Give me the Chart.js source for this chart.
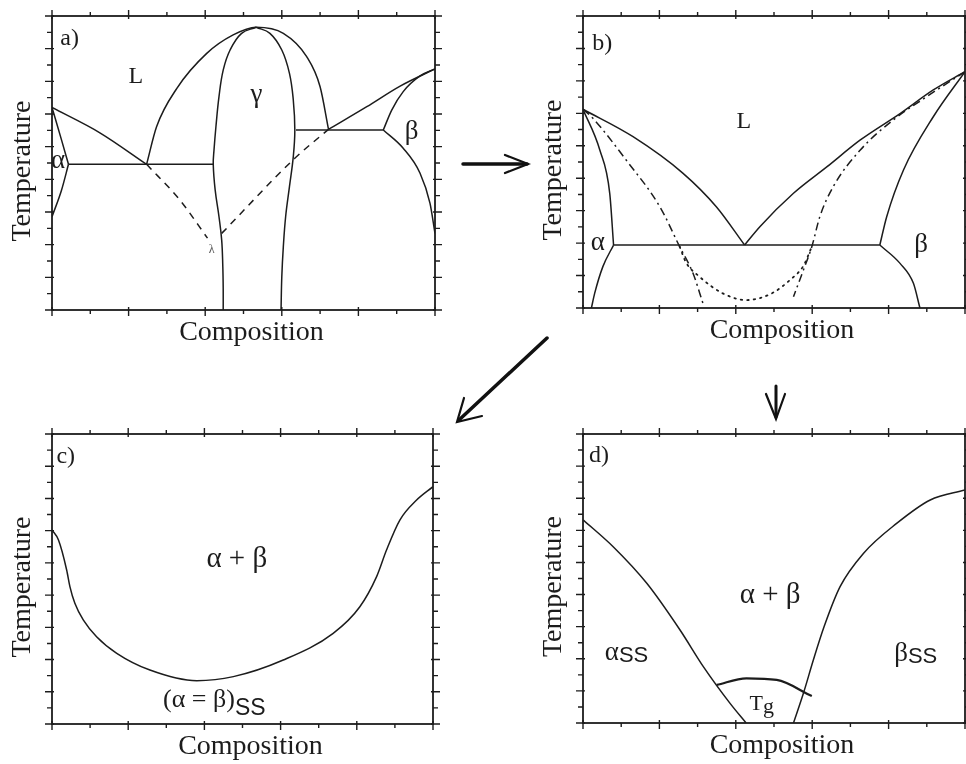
<!DOCTYPE html>
<html lang="en">
<head>
<meta charset="UTF-8">
<title>Phase diagrams a-d</title>
<script src="https://cdn.jsdelivr.net/npm/chart.js"></script>
<style>
    body { margin: 0; background: #fff; }
    #page { position: relative; width: 966px; height: 764px; overflow: hidden; background: #fff; }
    canvas { position: absolute; }
    svg { position: absolute; left: 0; top: 0; }
</style>
</head>
<body>
<div id="page">
    <canvas id="chartA" width="450" height="360" style="left:0;top:0"></canvas>
    <canvas id="chartB" width="436" height="360" style="left:530px;top:0"></canvas>
    <canvas id="chartC" width="450" height="364" style="left:0;top:400px"></canvas>
    <canvas id="chartD" width="436" height="364" style="left:530px;top:400px"></canvas>
    <svg width="966" height="764">
        <g stroke="#111" fill="none" stroke-linecap="round">
            <line x1="463" y1="164" x2="527" y2="164" stroke-width="3.5"/>
            <polyline points="505,155 528,164 505,173" stroke-width="2.2"/>
            <line x1="547" y1="338" x2="459" y2="420" stroke-width="3.5"/>
            <polyline points="464,398 457,422 482,416" stroke-width="2.2"/>
            <line x1="776" y1="386" x2="776" y2="417" stroke-width="3"/>
            <polyline points="766,394 776,419 785,394" stroke-width="2.2"/>
        </g>
    </svg>
</div>
<script>
    const ink = '#1c1c1c';
    const serif = "'Liberation Serif', 'Times New Roman', serif";
    const sans = "'Liberation Sans', Arial, sans-serif";

    // axes (same for every panel)
    const xTitle = 'Composition';
    const yTitle = 'Temperature';
    const xMin = 0, xMax = 100, xStep = 10;
    const yMin = 0, yMax = 18, yStep = 1;

    // a) eutectic + congruent gamma + peritectic
    const aLiquidusL = [[0, 12.4], [12.5, 10.85], [24.7, 8.92]];
    const aAlphaSolidus = [[0, 12.4], [2.5, 10.4], [4.3, 8.92]];
    const aAlphaSolvus = [[4.3, 8.92], [2.5, 7.35], [0, 5.71]];
    const aEutectic = [[4.3, 8.92], [42.1, 8.92]];
    const aGammaLiq = [[24.7, 8.92], [27.3, 11.22], [32.6, 13.57], [40.4, 15.71], [47.3, 16.84], [53.3, 17.31], [60.4, 16.94], [66.5, 15.51], [70.0, 13.67], [72.2, 11.06]];
    const aGammaL = [[53.3, 17.31], [49.5, 16.94], [46.5, 15.92], [44.7, 14.69], [43.6, 13.06], [42.8, 11.22], [42.3, 9.8], [42.1, 8.92], [42.6, 7.35], [43.6, 5.71], [44.3, 4.29], [44.6, 2.65], [44.7, 1.33], [44.7, 0]];
    const aGammaR = [[53.3, 17.31], [56.9, 16.94], [60.0, 15.92], [62.0, 14.49], [63.0, 12.86], [63.4, 11.02], [63.0, 9.39], [62.0, 7.55], [61.0, 5.71], [60.4, 3.88], [60.0, 2.04], [59.8, 0]];
    const aPeritectic = [[63.7, 11.02], [86.5, 11.02]];
    const aBetaLiq = [[72.2, 11.06], [82.2, 12.45], [90.9, 13.71], [100, 14.76]];
    const aBetaSolidus = [[86.5, 11.02], [88.7, 12.24], [91.7, 13.37], [96.1, 14.33], [100, 14.76]];
    const aBetaSolvus = [[86.5, 11.02], [91.7, 9.9], [96.1, 8.37], [98.7, 6.53], [100, 4.69]];
    const aMetaL = [[24.7, 8.92], [33.4, 6.73], [40.6, 4.4]];
    const aMetaR = [[44.3, 4.69], [63.4, 9.29], [72.2, 11.06]];

    // b) simple eutectic with T0 and glass curves
    const bLiqL = [[0, 12.25], [13.1, 10.56], [26.2, 8.3], [34.9, 6.24], [42.3, 3.88]];
    const bLiqR = [[42.3, 3.88], [46.3, 5.01], [55.1, 7.07], [63.9, 8.71], [72.6, 10.36], [83.1, 12.0], [91.7, 13.44], [100, 14.57]];
    const bEutectic = [[8.0, 3.88], [77.7, 3.88]];
    const bAlphaSolidus = [[0, 12.25], [4.4, 9.74], [7.0, 7.07], [8.0, 3.88]];
    const bAlphaSolvus = [[8.0, 3.88], [5.2, 2.55], [3.05, 0.9], [2.2, 0]];
    const bBetaSolidus = [[100, 14.57], [91.7, 11.79], [83.9, 8.51], [79.5, 5.63], [77.7, 3.88]];
    const bBetaSolvus = [[77.7, 3.88], [83.0, 2.75], [86.5, 1.52], [88.2, 0]];
    const bT0L = [[0, 12.25], [2.6, 11.69], [11.3, 9.12], [20.1, 6.25], [25.3, 3.78], [28.8, 2.14], [31.4, 0.29]];
    const bT0R = [[100, 14.57], [90.0, 13.03], [81.2, 11.59], [72.6, 9.74], [65.5, 7.48], [62.0, 5.63], [59.9, 3.78], [57.7, 2.34], [55.1, 0.7]];
    const bGlass = [[25.3, 3.78], [27.0, 2.8], [30.5, 1.93], [36.6, 0.9], [42.8, 0.49], [49.4, 0.9], [54.2, 1.73], [57.7, 2.6], [59.9, 3.78]];

    // c) miscibility gap
    const cBoundary = [[0, 12.04], [1.7, 11.42], [3.85, 9.56], [4.7, 8.53], [6.0, 7.49], [8.2, 6.46], [11.7, 5.42], [17.0, 4.39], [25.7, 3.35], [38.0, 2.69], [47.6, 2.94], [60.7, 3.97], [73.8, 5.63], [80.8, 7.28], [85.2, 9.15], [87.8, 10.8], [91.3, 12.66], [95.7, 13.9], [100, 14.73]];

    // d) solid solutions with Tg
    const dLeft = [[0.1, 12.64], [7.9, 10.98], [16.7, 8.7], [25.4, 5.79], [31.5, 3.51], [38.5, 1.22], [42.7, 0]];
    const dRight = [[55.1, 0], [57.7, 1.85], [60.3, 3.92], [63.1, 5.99], [67.3, 8.49], [73.4, 10.56], [82.1, 12.43], [90.9, 13.89], [100, 14.51]];
    const dTg = [[35.0, 2.37], [42.8, 2.78], [50.7, 2.68], [59.9, 1.68]];

    // region labels
    const notesA = [
        {text: 'a)', x: 4.6, y: 16.23, size: 24},
        {text: 'L', x: 21.9, y: 13.92, size: 24},
        {text: 'γ', x: 53.4, y: 12.76},
        {text: 'β', x: 93.9, y: 10.47},
        {text: 'α', x: 1.6, y: 8.67},
        {text: 'λ', x: 41.7, y: 3.49, size: 12, color: '#555'}
    ];
    const notesB = [
        {text: 'b)', x: 5.05, y: 15.9, size: 24},
        {text: 'L', x: 42.1, y: 11.08, size: 24},
        {text: 'α', x: 3.9, y: 3.58},
        {text: 'β', x: 88.5, y: 3.43}
    ];
    const notesC = [
        {text: 'c)', x: 3.6, y: 16.17, size: 24},
        {text: 'α + β', x: 48.5, y: 9.76, size: 29},
        {text: '(α = β)', sub: 'SS', x: 42.6, y: 1.06, size: 26, subSize: 23, drop: 8}
    ];
    const notesD = [
        {text: 'd)', x: 4.2, y: 16.27, size: 24},
        {text: 'α + β', x: 49.0, y: 7.45, size: 29},
        {text: 'α', sub: 'SS', x: 11.4, y: 3.92, size: 27, subSize: 22, drop: 2},
        {text: 'β', sub: 'SS', x: 87.1, y: 3.88, size: 27, subSize: 22, drop: 2},
        {text: 'T', sub: 'g', x: 46.8, y: 0.81, size: 22, subSize: 22, drop: 3, subSerif: true}
    ];

    const panelDecor = {
        id: 'panelDecor',
        afterDraw(chart, args, opts) {
            const {ctx, chartArea: a} = chart;
            const sx = chart.scales.x, sy = chart.scales.y;
            ctx.save();
            ctx.strokeStyle = ink;
            ctx.fillStyle = ink;
            ctx.lineWidth = 1.8;
            ctx.strokeRect(a.left, a.top, a.right - a.left, a.bottom - a.top);

            // tick marks on all four sides
            ctx.lineWidth = 1.4;
            ctx.beginPath();
            sx.ticks.forEach(t => {
                const px = sx.getPixelForValue(t.value);
                const major = t.value % 20 === 0;
                const out = major ? 6 : 4, inn = major ? 3 : 0;
                ctx.moveTo(px, a.bottom - inn); ctx.lineTo(px, a.bottom + out);
                ctx.moveTo(px, a.top + inn); ctx.lineTo(px, a.top - out);
            });
            sy.ticks.forEach(t => {
                const py = sy.getPixelForValue(t.value);
                const major = t.value % 2 === 0;
                const out = major ? 7 : 5, inn = major ? 2 : 0;
                ctx.moveTo(a.left + inn, py); ctx.lineTo(a.left - out, py);
                ctx.moveTo(a.right - inn, py); ctx.lineTo(a.right + out, py);
            });
            ctx.stroke();

            // axis titles
            ctx.font = '28px ' + serif;
            ctx.textAlign = 'center';
            ctx.textBaseline = 'middle';
            ctx.fillText(xTitle, (a.left + a.right) / 2 + 8, a.bottom + 23);
            ctx.save();
            ctx.translate(a.left - 29, (a.top + a.bottom) / 2 + 8);
            ctx.rotate(-Math.PI / 2);
            ctx.fillText(yTitle, 0, 0);
            ctx.restore();

            // labels inside the plot
            ctx.textAlign = 'left';
            ctx.textBaseline = 'alphabetic';
            opts.notes.forEach(n => {
                const px = sx.getPixelForValue(n.x), py = sy.getPixelForValue(n.y);
                const mainFont = (n.size || 27) + 'px ' + serif;
                const subFont = (n.subSize || 20) + 'px ' + (n.subSerif ? serif : sans);
                ctx.font = mainFont;
                const w1 = ctx.measureText(n.text).width;
                let w2 = 0;
                if (n.sub) {
                    ctx.font = subFont;
                    w2 = ctx.measureText(n.sub).width;
                }
                const left = px - (w1 + w2) / 2;
                ctx.fillStyle = n.color || ink;
                ctx.font = mainFont;
                ctx.fillText(n.text, left, py);
                if (n.sub) {
                    ctx.font = subFont;
                    ctx.fillText(n.sub, left + w1, py + (n.drop || 0));
                }
            });
            ctx.restore();
        }
    };

    function pts(arr) {
        return arr.map(([x, y]) => ({x, y}));
    }

    // smooth curve through the read-off points; monotone for curves that are a function of x
    function curve(arr, extra) {
        return Object.assign({
            data: pts(arr),
            showLine: true,
            borderColor: ink,
            borderWidth: 1.5,
            pointRadius: 0,
            cubicInterpolationMode: 'monotone',
            fill: false
        }, extra || {});
    }

    const loose = {cubicInterpolationMode: 'default', tension: 0.4};
    const dashed = {borderDash: [7, 6]};
    const dashDot = {borderDash: [8, 4, 2, 4]};
    const dotted = {borderDash: [1.5, 5], borderCapStyle: 'round', borderWidth: 1.8};

    function panel(id, datasets, notes, box) {
        return new Chart(document.getElementById(id), {
            type: 'scatter',
            data: {datasets: datasets},
            options: {
                responsive: false,
                animation: false,
                events: [],
                layout: {padding: {top: box.top, right: box.right, left: 0, bottom: 0}},
                plugins: {
                    legend: {display: false},
                    tooltip: {enabled: false},
                    panelDecor: {notes: notes}
                },
                scales: {
                    x: {
                        type: 'linear', min: xMin, max: xMax,
                        ticks: {stepSize: xStep, display: false},
                        grid: {display: false}, border: {display: false},
                        afterFit: s => { s.height = box.bottom; }
                    },
                    y: {
                        type: 'linear', min: yMin, max: yMax,
                        ticks: {stepSize: yStep, display: false},
                        grid: {display: false}, border: {display: false},
                        afterFit: s => { s.width = box.left; }
                    }
                }
            },
            plugins: [panelDecor]
        });
    }

    panel('chartA', [
        curve(aLiquidusL), curve(aAlphaSolidus), curve(aAlphaSolvus), curve(aEutectic),
        curve(aGammaLiq), curve(aGammaL, loose), curve(aGammaR, loose),
        curve(aPeritectic), curve(aBetaLiq), curve(aBetaSolidus), curve(aBetaSolvus),
        curve(aMetaL, dashed), curve(aMetaR, dashed)
    ], notesA, {left: 52, top: 16, right: 15, bottom: 50});

    panel('chartB', [
        curve(bLiqL), curve(bLiqR), curve(bEutectic),
        curve(bAlphaSolidus), curve(bAlphaSolvus), curve(bBetaSolidus), curve(bBetaSolvus),
        curve(bT0L, dashDot), curve(bT0R, dashDot), curve(bGlass, dotted)
    ], notesB, {left: 53, top: 16, right: 1, bottom: 52});

    panel('chartC', [
        curve(cBoundary)
    ], notesC, {left: 52, top: 34, right: 17, bottom: 40});

    panel('chartD', [
        curve(dLeft), curve(dRight), curve(dTg, {borderWidth: 2.3})
    ], notesD, {left: 53, top: 34, right: 1, bottom: 41});
</script>
</body>
</html>
